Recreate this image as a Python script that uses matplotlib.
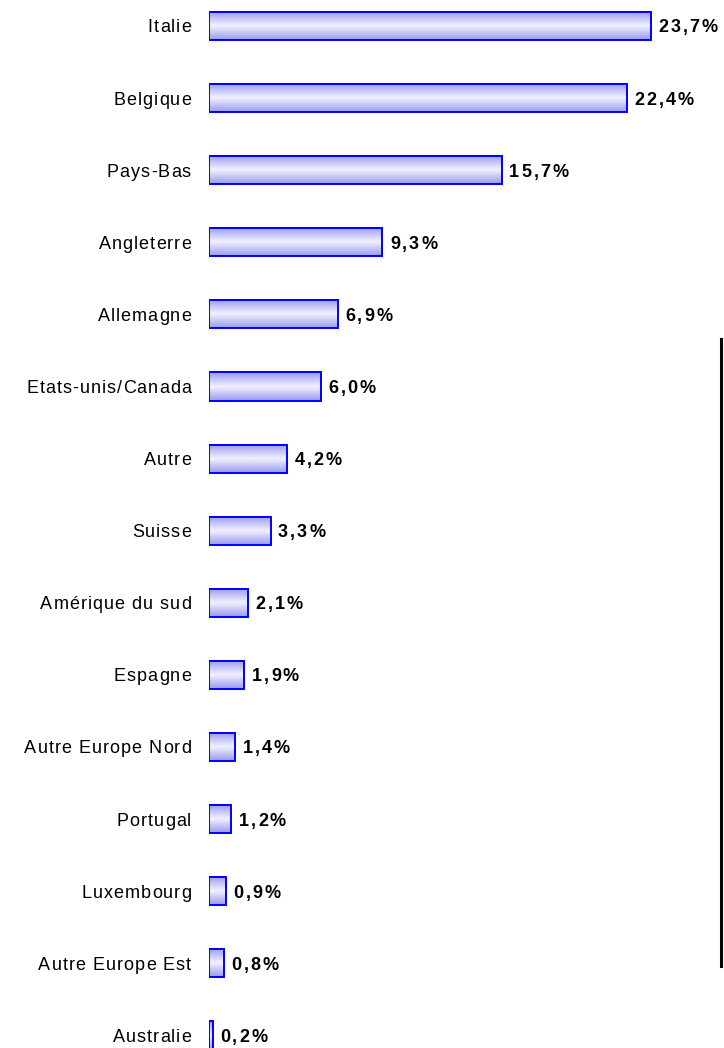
import numpy as np
import matplotlib.pyplot as plt
from matplotlib.lines import Line2D
from matplotlib.colors import LinearSegmentedColormap
from matplotlib.font_manager import FontProperties
from matplotlib.textpath import text_to_path

plt.rcParams['font.family'] = ['Liberation Sans', 'DejaVu Sans']

# data
countries = ['Italie', 'Belgique', 'Pays-Bas', 'Angleterre', 'Allemagne',
             'Etats-unis/Canada', 'Autre', 'Suisse', 'Amérique du sud', 'Espagne',
             'Autre Europe Nord', 'Portugal', 'Luxembourg', 'Autre Europe Est', 'Australie']
shares = [23.7, 22.4, 15.7, 9.3, 6.9, 6.0, 4.2, 3.3, 2.1, 1.9, 1.4, 1.2, 0.9, 0.8, 0.2]
value_labels = ['23,7%', '22,4%', '15,7%', '9,3%', '6,9%', '6,0%', '4,2%', '3,3%',
                '2,1%', '1,9%', '1,4%', '1,2%', '0,9%', '0,8%', '0,2%']

FS = 13
prop_reg = FontProperties(family='Liberation Sans', size=FS)
prop_bold = FontProperties(family='Liberation Sans', size=FS, weight='bold')


def tw(s, prop):
    # width in points
    return text_to_path.get_text_width_height_descent(s, prop, ismath=False)[0]


def spaced_text(ax, x, y, s, prop, gap_px, align='left'):
    # the original rendering has loose letter spacing: place chars one by one
    gap = gap_px * 0.72
    total = tw(s, prop) + gap * (len(s) - 1)
    x0 = -total if align == 'right' else 0.0
    for k, ch in enumerate(s):
        off = x0 + tw(s[:k], prop) + gap * k if k else x0
        ax.annotate(ch, xy=(x, y), xytext=(off, 0), textcoords='offset points',
                    ha='left', va='baseline', fontproperties=prop, color='black',
                    annotation_clip=False)


W, H = 724, 1048
fig = plt.figure(figsize=(W / 100, H / 100), dpi=100)
ax = fig.add_axes([209 / W, 0, 1 - 209 / W, 1])

xmax = (W - 209) / 18.65
ylim = ((H - 26) / 72.1, -26 / 72.1)
ax.set_xlim(0, xmax)
ax.set_ylim(*ylim)
ax.axis('off')

# vertical gradient: darker at edges, pale in the middle
cmap = LinearSegmentedColormap.from_list(
    'bar', [(0.6, 0.6, 0.94), (0.95, 0.95, 1.0), (0.6, 0.6, 0.94)])
grad = np.linspace(0, 1, 64).reshape(-1, 1)

bh = 0.39
dy = 0.09  # baseline below bar centre
for i, (c, v, lab) in enumerate(zip(countries, shares, value_labels)):
    ax.imshow(grad, cmap=cmap, aspect='auto', interpolation='bilinear',
              extent=(0, v, i + bh / 2, i - bh / 2), zorder=1)
    ax.add_patch(plt.Rectangle((0, i - bh / 2), v, bh, fill=False,
                               edgecolor='#0000ff', linewidth=1.4, zorder=2))
    spaced_text(ax, v + 0.4, i + dy, lab, prop_bold, 2.0, 'left')
    spaced_text(ax, -0.97, i + dy, c, prop_reg, 1.0, 'right')

ax.set_xlim(0, xmax)
ax.set_ylim(*ylim)

fig.add_artist(Line2D([721 / W, 721 / W], [1 - 339 / H, 1 - 966 / H],
                      color='black', linewidth=2.2, transform=fig.transFigure))

fig.savefig('out.png', dpi=100)
